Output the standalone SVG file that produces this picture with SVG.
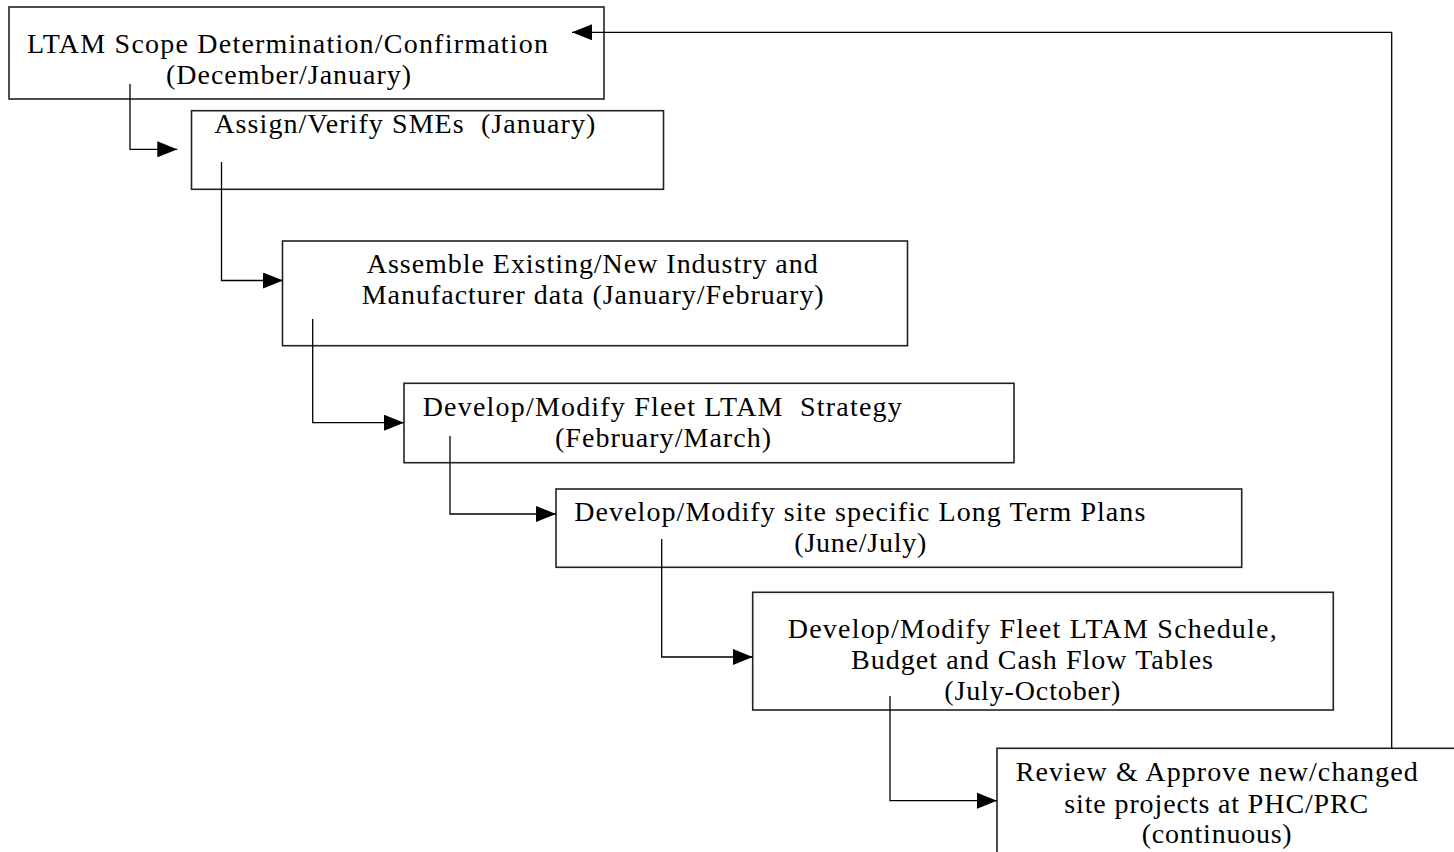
<svg xmlns="http://www.w3.org/2000/svg" width="1454" height="852" viewBox="0 0 1454 852">
<style>
.box{fill:#fff;stroke:#222;stroke-width:1.6}
.conn{fill:none;stroke:#000;stroke-width:1.3}
text{font-family:"Liberation Serif","Times New Roman",serif;font-size:28px;fill:#000}
</style>
<defs>
<marker id="arr" markerUnits="userSpaceOnUse" markerWidth="20" markerHeight="16" refX="20" refY="8" orient="auto">
<path d="M0,0 L20,8 L0,16 z" fill="#000"/>
</marker>
</defs>
<rect width="1454" height="852" fill="#fff"/>
<g id="node1">
<rect class="box" x="9" y="7" width="595" height="92"/>
<text x="27" y="53.3" textLength="521" lengthAdjust="spacing">LTAM Scope Determination/Confirmation</text>
<text x="166" y="84" textLength="245" lengthAdjust="spacing">(December/January)</text>
</g>
<g id="node2">
<rect class="box" x="191.5" y="110.7" width="472" height="78.6"/>
<text x="214.3" y="133.3" textLength="381" lengthAdjust="spacing" xml:space="preserve">Assign/Verify SMEs  (January)</text>
</g>
<g id="node3">
<rect class="box" x="282.5" y="241" width="625" height="104.7"/>
<text x="366.7" y="272.7" textLength="451" lengthAdjust="spacing">Assemble Existing/New Industry and</text>
<text x="361.7" y="304" textLength="462" lengthAdjust="spacing">Manufacturer data (January/February)</text>
</g>
<g id="node4">
<rect class="box" x="404" y="383.3" width="610" height="79.4"/>
<text x="422.7" y="416" textLength="479" lengthAdjust="spacing" xml:space="preserve">Develop/Modify Fleet LTAM  Strategy</text>
<text x="555" y="446.7" textLength="216" lengthAdjust="spacing">(February/March)</text>
</g>
<g id="node5">
<rect class="box" x="556" y="489" width="685.7" height="78.3"/>
<text x="574.3" y="521" textLength="571" lengthAdjust="spacing">Develop/Modify site specific Long Term Plans</text>
<text x="794.3" y="551.7" textLength="132" lengthAdjust="spacing">(June/July)</text>
</g>
<g id="node6">
<rect class="box" x="752.7" y="592.3" width="580.6" height="117.7"/>
<text x="787.7" y="638.3" textLength="489" lengthAdjust="spacing">Develop/Modify Fleet LTAM Schedule,</text>
<text x="851" y="669" textLength="362" lengthAdjust="spacing">Budget and Cash Flow Tables</text>
<text x="944.3" y="700" textLength="176" lengthAdjust="spacing">(July-October)</text>
</g>
<g id="node7">
<rect class="box" x="997" y="748.3" width="480" height="140"/>
<text x="1015.7" y="781" textLength="402" lengthAdjust="spacing" xml:space="preserve">Review &amp; Approve new/changed</text>
<text x="1064.3" y="813" textLength="304" lengthAdjust="spacing">site projects at PHC/PRC</text>
<text x="1141.7" y="843" textLength="150" lengthAdjust="spacing">(continuous)</text>
</g>
<g id="connectors">
<path class="conn" d="M130,84 V149.3 H177.3" marker-end="url(#arr)"/>
<path class="conn" d="M221.5,162 V280.5 H283" marker-end="url(#arr)"/>
<path class="conn" d="M312.7,319 V422.7 H404" marker-end="url(#arr)"/>
<path class="conn" d="M450,436 V514 H556" marker-end="url(#arr)"/>
<path class="conn" d="M661.7,539 V657 H752.7" marker-end="url(#arr)"/>
<path class="conn" d="M890,696 V800.7 H997" marker-end="url(#arr)"/>
<path class="conn" d="M1391.7,748.3 V32.3 H572" marker-end="url(#arr)"/>
</g>
</svg>
